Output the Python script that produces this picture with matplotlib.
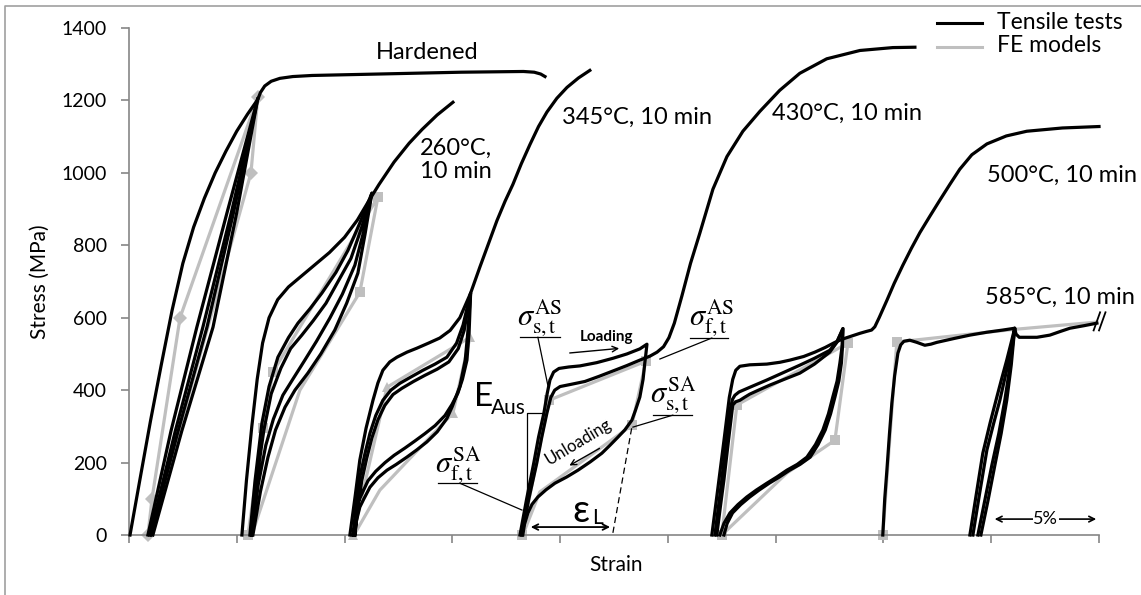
import matplotlib
matplotlib.use("Agg")
import matplotlib.pyplot as plt
from matplotlib.lines import Line2D

plt.rcParams['font.family'] = ['Lato', 'DejaVu Sans']
plt.rcParams['mathtext.fontset'] = 'stix'

# strain in %, stress in MPa

# hardened
hard_mono_x = [0.05, 0.5, 1.0, 1.5, 2.0, 2.5, 3.0, 3.5, 4.0, 4.5, 5.0, 5.5, 5.98, 6.1, 6.3, 6.6, 7.0, 7.6, 8.5,
               11.6, 15.4, 18.3, 18.8, 19.1, 19.3]
hard_mono_y = [0, 150, 315, 470, 620, 750, 850, 930, 1000, 1060, 1115, 1162, 1203, 1222, 1240, 1253, 1261, 1266, 1269,
               1273, 1278, 1280, 1278, 1273, 1266]
hard_loop1_x = [0.88, 1.95, 3.15, 4.55, 5.98, 4.85, 3.62, 2.28, 1.02]
hard_loop1_y = [0, 287, 574, 890, 1206, 890, 574, 287, 0]
hard_loop2_x = [0.97, 2.15, 3.43, 4.75, 5.98, 5.0, 3.90, 2.45, 1.11]
hard_loop2_y = [0, 287, 574, 890, 1206, 890, 574, 287, 0]
hard_fe_x = [0.88, 1.07, 2.37, 5.98, 5.66, 0.97]
hard_fe_y = [0, 100, 600, 1210, 1000, 0]

# 260 C
t260_mono_x = [5.24, 5.45, 5.7, 5.95, 6.2, 6.5, 6.9, 7.4, 8.0, 8.6, 9.3, 10.0, 10.6, 11.1, 11.6, 12.3, 13.0, 13.6,
               14.3, 15.03]
t260_mono_y = [0, 150, 300, 430, 530, 600, 650, 685, 715, 745, 780, 822, 870, 920, 968, 1030, 1082, 1120,
               1160, 1195]
t260_loop1_x = [5.61, 5.85, 6.17, 6.5, 6.91, 7.4, 7.84, 8.4, 8.95, 9.6, 10.16, 10.7, 11.27,
                10.95, 10.62, 10.1, 9.55, 8.9, 8.30, 7.7, 7.24, 6.8, 6.45, 6.1, 5.75]
t260_loop1_y = [0, 150, 309, 410, 491, 545, 585, 625, 668, 725, 786, 860, 944,
                830, 723, 640, 566, 500, 447, 400, 353, 290, 215, 120, 0]
t260_loop2_x = [5.66, 5.92, 6.26, 6.6, 7.05, 7.5, 8.02, 8.55, 9.14, 9.7, 10.30, 10.8, 11.27,
                10.9, 10.48, 9.9, 9.32, 8.7, 8.16, 7.6, 7.14, 6.7, 6.35, 6.0, 5.70]
t260_loop2_y = [0, 150, 290, 390, 461, 515, 552, 592, 640, 700, 764, 850, 944,
                840, 745, 665, 599, 535, 483, 430, 386, 320, 248, 140, 0]
t260_fe_x = [5.52, 6.22, 6.68, 11.55, 10.71, 7.93, 5.70]
t260_fe_y = [0, 295, 450, 933, 670, 400, 0]

# 345 C
t345_mono_x = [10.25, 10.5, 10.71, 11.0, 11.32, 11.55, 11.78, 12.1, 12.43, 12.9, 13.36, 13.9, 14.42, 14.9, 15.35,
               15.85, 16.28, 16.7, 17.07, 17.45, 17.81, 18.2, 18.6, 19.0, 19.39, 19.85, 20.32, 20.85, 21.38]
t345_mono_y = [0, 110, 207, 295, 372, 420, 455, 478, 491, 505, 516, 530, 544, 565, 600,
               668, 740, 808, 868, 922, 968, 1025, 1078, 1128, 1168, 1206, 1236, 1262, 1283]
t345_loop1_x = [10.39, 10.55, 10.71, 10.95, 11.18, 11.45, 11.78, 12.15, 12.57, 13.1, 13.64, 14.2, 14.75, 15.2, 15.5,
                15.85, 15.72, 15.6, 15.35, 15.0, 14.75, 14.3, 13.82, 13.35, 12.89, 12.4, 11.97, 11.55, 11.18, 10.9,
                10.71, 10.39]
t345_loop1_y = [0, 85, 160, 225, 281, 330, 372, 400, 419, 437, 455, 472, 491, 530, 580,
                668, 560, 483, 410, 355, 322, 285, 257, 235, 215, 195, 179, 158, 132, 100,
                77, 0]
t345_loop2_x = [10.48, 10.63, 10.80, 11.03, 11.27, 11.55, 11.87, 12.25, 12.66, 13.2, 13.73, 14.3, 14.84, 15.28, 15.55,
                15.85, 15.78, 15.68, 15.47, 15.26, 14.98, 14.66, 14.2, 13.73, 13.25, 12.80, 12.3, 11.88, 11.45, 11.09,
                10.62, 10.48]
t345_loop2_y = [0, 78, 150, 212, 268, 318, 358, 388, 405, 424, 441, 458, 478, 515, 565,
                668, 560, 483, 430, 392, 360, 330, 302, 280, 259, 240, 220, 200, 176, 150,
                90, 0]
t345_fe_x = [10.39, 11.97, 15.82, 15.03, 11.64, 10.44]
t345_fe_y = [0, 408, 546, 337, 124, 0]

# 430 C
t430_mono_x = [18.23, 18.55, 18.92, 19.15, 19.39, 19.57, 19.75, 20.0, 20.5, 21.15, 21.8, 22.54, 23.1, 23.70, 24.17,
               24.5, 24.8, 25.05, 25.3, 25.65, 26.05, 26.48, 27.09, 27.74, 28.48, 29.27, 30.19, 31.12, 32.37,
               33.91, 35.44, 36.46]
t430_mono_y = [0, 100, 199, 270, 337, 380, 400, 410, 416, 424, 438, 455, 468, 483, 494,
               505, 520, 545, 585, 660, 750, 833, 955, 1045, 1115, 1170, 1228, 1275, 1315,
               1338, 1346, 1347]
t430_loop_x = [18.14, 18.45, 18.78, 19.0, 19.25, 19.4, 19.53, 19.7, 19.95, 20.4, 20.92, 21.7, 22.45, 23.1, 23.70, 24.03,
               23.98, 23.93, 23.85, 23.70, 23.5, 23.33, 23.0, 22.68, 22.3, 21.94, 21.4, 20.83, 20.3, 19.76, 19.35,
               18.97, 18.7, 18.51, 18.35, 18.27]
t430_loop_y = [0, 100, 199, 270, 337, 390, 428, 450, 460, 464, 467, 476, 488, 500, 514, 527,
               500, 475, 430, 381, 345, 317, 290, 270, 247, 226, 202, 179, 160, 143, 125,
               105, 85, 61, 30, 0]
t430_fe_x = [18.23, 19.48, 23.98, 23.33, 19.06, 18.27]
t430_fe_y = [0, 372, 480, 303, 119, 0]

# 500 C
t500_mono_x = [27.04, 27.3, 27.6, 27.85, 28.01, 28.15, 28.34, 28.8, 29.59, 30.2, 30.66, 31.3, 31.82, 32.3, 32.75,
               33.1, 33.35, 33.91, 34.2, 34.45, 34.6, 34.8, 35.16, 35.5, 35.90, 36.3, 36.69, 37.15, 37.62, 38.1,
               38.54, 39.1, 39.80, 40.7, 41.65, 43.3, 45.0]
t500_mono_y = [0, 120, 260, 380, 430, 455, 466, 470, 472, 477, 483, 493, 505, 518, 532,
               541, 546, 557, 562, 566, 575, 600, 648, 695, 745, 792, 835, 880, 925, 970,
               1010, 1050, 1080, 1102, 1115, 1124, 1128]
t500_loop1_x = [27.18, 27.35, 27.50, 27.7, 27.88, 28.0, 28.11, 28.3, 28.57, 29.0, 29.59, 30.3, 31.12, 31.8, 32.51,
                32.85, 33.12, 33.08, 32.98, 32.85, 32.65, 32.45, 32.19, 31.85, 31.45, 31.0, 30.52, 30.05, 29.59,
                29.1, 28.66, 28.25, 27.88, 27.6, 27.41]
t500_loop1_y = [0, 80, 152, 260, 345, 375, 386, 395, 402, 413, 428, 447, 469, 488, 510,
                535, 570, 520, 475, 425, 381, 335, 290, 250, 215, 195, 179, 160, 143,
                124, 105, 84, 61, 32, 0]
t500_loop2_x = [27.27, 27.44, 27.60, 27.82, 28.01, 28.15, 28.34, 28.55, 28.80, 29.2, 29.73, 30.4, 31.12, 31.8, 32.51,
                32.85, 33.12, 33.1, 33.05, 32.93, 32.75, 32.55, 32.30, 31.97, 31.60, 31.13, 30.65, 30.17, 29.70,
                29.23, 28.80, 28.38, 28.00, 27.75, 27.60]
t500_loop2_y = [0, 80, 152, 265, 359, 368, 372, 380, 389, 400, 414, 430, 447, 472, 505,
                533, 570, 520, 475, 425, 381, 335, 290, 250, 215, 195, 179, 160, 143,
                124, 105, 84, 61, 32, 0]
t500_fe_x = [27.50, 28.20, 33.35, 32.75, 30.52, 27.50]
t500_fe_y = [0, 359, 530, 262, 171, 0]

# 585 C
t585_mono_x = [34.97, 35.06, 35.16, 35.28, 35.39, 35.52, 35.67, 35.8, 35.95, 36.22, 36.55, 36.92, 37.2, 37.48, 38.3,
               39.01, 39.8, 40.54, 41.09, 41.15, 41.3, 42.12, 42.72, 43.2, 43.65, 44.3, 44.90]
t585_mono_y = [0, 100, 179, 280, 364, 440, 502, 525, 535, 538, 532, 524, 527, 532, 543,
               552, 560, 566, 571, 555, 546, 546, 552, 562, 571, 578, 585]
t585_loop1_x = [39.01, 39.3, 39.61, 39.95, 40.26, 40.5, 40.72, 40.92, 41.09, 40.88, 40.63, 40.35, 40.03, 39.7, 39.38]
t585_loop1_y = [0, 110, 226, 310, 381, 435, 483, 530, 571, 470, 372, 280, 193, 95, 0]
t585_loop2_x = [39.15, 39.47, 39.80, 40.12, 40.40, 40.62, 40.82, 40.97, 41.09, 40.93, 40.72, 40.46, 40.17, 39.85, 39.52]
t585_loop2_y = [0, 118, 235, 310, 372, 430, 483, 530, 571, 470, 372, 280, 193, 95, 0]
t585_fe_x = [34.97, 35.62, 41.09, 44.90]
t585_fe_y = [0, 533, 568, 588]

BLACK = "black"
GREY = "#bfbfbf"
LW = 2.3

fig = plt.figure(figsize=(11.41, 5.95), dpi=100)
ax = fig.add_axes([0.113, 0.1008, 0.8502, 0.8521])

# FE models (grey, under the tests)
fe_sets = [
    (hard_fe_x, hard_fe_y, "D", [0, 1, 2, 3, 4]),
    (t260_fe_x, t260_fe_y, "s", [0, 1, 2, 3, 4]),
    (t345_fe_x, t345_fe_y, "^", [0, 1, 2, 3]),
    (t430_fe_x, t430_fe_y, "s", [0, 1, 2, 3]),
    (t500_fe_x, t500_fe_y, "s", [0, 1, 2, 3]),
    (t585_fe_x, t585_fe_y, "s", [0, 1]),
]
for fx, fy, mk, every in fe_sets:
    ax.plot(fx, fy, color=GREY, lw=LW, marker=mk, markevery=every,
            markersize=7, markeredgewidth=0, zorder=2, clip_on=False)

# tensile tests (black)
tests = [
    (hard_mono_x, hard_mono_y), (hard_loop1_x, hard_loop1_y), (hard_loop2_x, hard_loop2_y),
    (t260_mono_x, t260_mono_y), (t260_loop1_x, t260_loop1_y), (t260_loop2_x, t260_loop2_y),
    (t345_mono_x, t345_mono_y), (t345_loop1_x, t345_loop1_y), (t345_loop2_x, t345_loop2_y),
    (t430_mono_x, t430_mono_y), (t430_loop_x, t430_loop_y),
    (t500_mono_x, t500_mono_y), (t500_loop1_x, t500_loop1_y), (t500_loop2_x, t500_loop2_y),
    (t585_mono_x, t585_mono_y), (t585_loop1_x, t585_loop1_y), (t585_loop2_x, t585_loop2_y),
]
for tx, ty in tests:
    ax.plot(tx, ty, color=BLACK, lw=LW, zorder=3, clip_on=False, solid_joinstyle="round")

# break mark at the end of the 585 C curve
ax.plot([44.75, 45.05], [565, 615], color=BLACK, lw=1.3, clip_on=False, zorder=4)
ax.plot([45.0, 45.3], [565, 615], color=BLACK, lw=1.3, clip_on=False, zorder=4)

ax.set_xlim(0, 45)
ax.set_ylim(0, 1400)
ax.set_xticks(range(0, 50, 5))
ax.set_yticks(range(0, 1600, 200))
ax.tick_params(axis="both", direction="out", length=6, width=1.2, color="#868686",
               labelsize=14, pad=10)
ax.tick_params(axis="x", labelbottom=False)
for side in ("top", "right"):
    ax.spines[side].set_visible(False)
for side in ("left", "bottom"):
    ax.spines[side].set_color("#868686")
    ax.spines[side].set_linewidth(1.2)
ax.set_ylabel("Stress (MPa)", fontsize=15)
ax.yaxis.set_label_coords(-0.081, 0.5)
ax.set_xlabel("Strain", fontsize=15)
ax.xaxis.set_label_coords(0.502, -0.039)

# curve labels
lab = dict(fontsize=17, va="center", ha="left", clip_on=False)
ax.text(11.45, 1333, "Hardened", **lab)
ax.text(13.5, 1035, "260°C,\n10 min", linespacing=1.15, **lab)
ax.text(20.08, 1153, "345°C, 10 min", **lab)
ax.text(29.82, 1164, "430°C, 10 min", **lab)
ax.text(39.8, 993, "500°C, 10 min", **lab)
ax.text(39.7, 657, "585°C, 10 min", **lab)

# annotations of the 430 C loop
thin = dict(color=BLACK, lw=0.9, zorder=4)
sig = dict(fontsize=22, ha="center", va="center")
ax.text(19.06, 599, r"$\sigma^{\mathrm{AS}}_{\mathrm{s,t}}$", **sig)
ax.plot([18.14, 19.99], [546, 546], **thin)
ax.plot([18.97, 19.43], [546, 414], **thin)
ax.text(27.04, 599, r"$\sigma^{\mathrm{AS}}_{\mathrm{f,t}}$", **sig)
ax.plot([26.02, 27.78], [544, 544], **thin)
ax.plot([27.04, 24.63], [544, 486], **thin)
ax.text(25.23, 386, r"$\sigma^{\mathrm{SA}}_{\mathrm{s,t}}$", **sig)
ax.plot([24.30, 26.11], [331, 331], **thin)
ax.plot([25.23, 23.38], [331, 298], **thin)
ax.text(15.26, 193, r"$\sigma^{\mathrm{SA}}_{\mathrm{f,t}}$", **sig)
ax.plot([14.33, 16.14], [143, 143], **thin)
ax.plot([15.35, 18.23], [143, 69], **thin)

ax.text(16.0, 381, "E", fontsize=24, ha="left", va="center")
ax.text(16.8, 350, "Aus", fontsize=15, ha="left", va="center")
ax.plot([19.16, 18.46, 18.46], [337, 337, 61], **thin)

ax.text(20.55, 66, "ε", fontsize=27, ha="left", va="center")
ax.text(21.5, 48, "L", fontsize=15, ha="left", va="center")
ax.annotate("", xy=(18.51, 22), xytext=(22.45, 22),
            arrowprops=dict(arrowstyle="<->", color=BLACK, lw=1.3))
ax.plot([22.45, 23.33], [6, 298], color=BLACK, lw=0.9, ls=(0, (5, 3)), zorder=4)

ax.text(20.83, 257, "Unloading", fontsize=12, rotation=31, ha="center", va="center")
ax.annotate("", xy=(20.32, 188), xytext=(21.94, 243),
            arrowprops=dict(arrowstyle="->", color=BLACK, lw=1.0))
ax.text(22.17, 546, "Loading", fontsize=11, fontweight="bold", ha="center", va="center")
ax.annotate("", xy=(22.87, 516), xytext=(20.32, 502),
            arrowprops=dict(arrowstyle="->", color=BLACK, lw=1.0))

# 5 % scale
ax.annotate("", xy=(40.03, 44), xytext=(45.0, 44),
            arrowprops=dict(arrowstyle="<->", color=BLACK, lw=1.2), annotation_clip=False)
ax.text(42.53, 44, "5%", fontsize=13, ha="center", va="center",
        bbox=dict(facecolor="white", edgecolor="none", pad=0.5))

# legend
fig.add_artist(Line2D([0.821, 0.861], [0.961, 0.961], color=BLACK, lw=2.2))
fig.add_artist(Line2D([0.821, 0.861], [0.921, 0.921], color=GREY, lw=2.2))
fig.text(0.874, 0.963, "Tensile tests", fontsize=16.5, va="center")
fig.text(0.874, 0.923, "FE models", fontsize=16.5, va="center")

# chart frame
fig.add_artist(Line2D([0.0044, 0.0044, 1.0], [0.0, 0.990, 0.990], color="#a0a0a0", lw=1.2))

fig.savefig("out.png", dpi=100)
